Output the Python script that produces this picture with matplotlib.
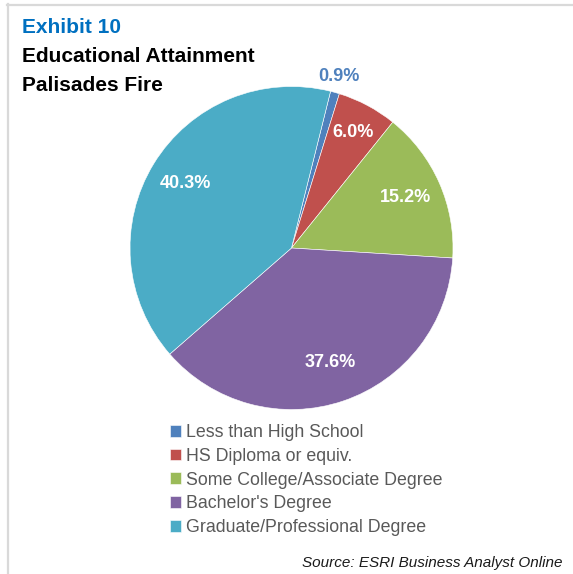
import numpy as np
import matplotlib
matplotlib.use('Agg')
import matplotlib.pyplot as plt
from matplotlib.lines import Line2D

# Educational attainment, Palisades Fire area
categories = ['Less than High School', 'HS Diploma or equiv.', 'Some College/Associate Degree',
              "Bachelor's Degree", 'Graduate/Professional Degree']
shares = [0.9, 6.0, 15.2, 37.6, 40.3]
colors = ['#4F81BD', '#C0504D', '#9BBB59', '#8064A2', '#4BACC6']

W, H = 573, 574
fig = plt.figure(figsize=(W / 100, H / 100), dpi=100)


def px(x, y):
    # pixel position from the top-left corner -> figure fraction
    return x / W, 1 - y / H


# thin grey frame on the top and left edges
fig.add_artist(Line2D([px(7, 0)[0], px(W, 0)[0]], [px(0, 4.8)[1]] * 2, color='#d9d9d9', lw=1.6))
fig.add_artist(Line2D([px(8.2, 0)[0]] * 2, [px(0, 4)[1], px(0, H)[1]], color='#d9d9d9', lw=1.6))

title_font = ['Liberation Sans', 'DejaVu Sans']
fig.text(*px(22, 33), 'Exhibit 10', color='#0070C0', fontsize=15, fontweight='bold',
         family=title_font, va='baseline', ha='left')
fig.text(*px(22, 62), 'Educational Attainment', color='black', fontsize=15, fontweight='bold',
         family=title_font, va='baseline', ha='left')
fig.text(*px(22, 91), 'Palisades Fire', color='black', fontsize=15, fontweight='bold',
         family=title_font, va='baseline', ha='left')

# pie
cx, cy, R = 291.5, 248, 161.5
ax = fig.add_axes([(cx - R) / W, (H - cy - R) / H, 2 * R / W, 2 * R / H])
wedges, _ = ax.pie(shares, colors=colors, startangle=76, counterclock=False, radius=1,
                   wedgeprops=dict(edgecolor='white', linewidth=0.4))
ax.set_xlim(-1, 1)
ax.set_ylim(-1, 1)
ax.axis('off')

label_r = [1.10, 0.81, 0.77, 0.75, 0.77]
for w, val, r in zip(wedges, shares, label_r):
    ang = np.deg2rad((w.theta1 + w.theta2) / 2)
    tc = w.get_facecolor() if r > 1 else 'white'
    ax.text(r * np.cos(ang), r * np.sin(ang), f'{val:.1f}%', color=tc, fontsize=13,
            fontweight='bold', family=title_font, ha='center', va='center')

# legend
leg = fig.legend(wedges, categories, loc='upper left', bbox_to_anchor=px(170, 424),
                 frameon=False, handlelength=0.62, handleheight=0.62,
                 handletextpad=0.3, labelspacing=0.38, borderpad=0, borderaxespad=0,
                 prop=dict(family=title_font, size=12.8))
for t in leg.get_texts():
    t.set_color('#595959')

fig.text(*px(563, 567), 'Source: ESRI Business Analyst Online', color='#1a1a1a', fontsize=11,
         style='italic', family=title_font, va='baseline', ha='right')

fig.savefig('out.png', dpi=100, facecolor='white')
